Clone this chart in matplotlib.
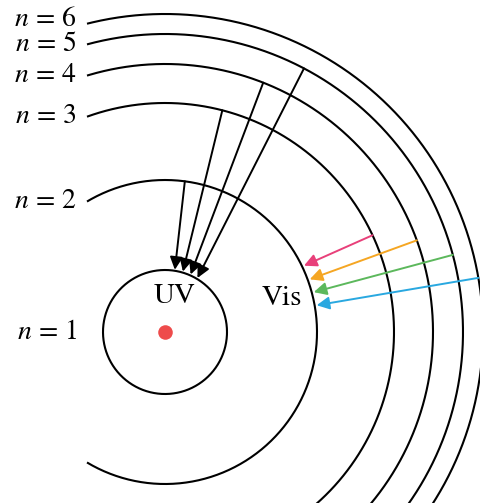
import numpy as np
import matplotlib.pyplot as plt

# Bohr model of hydrogen, drawn in pixel units (y grows downward)
levels = [1, 2, 3, 4, 5, 6]
radii = [62, 152, 229, 268, 298, 318]

# Lyman series (UV): n=2..5 -> n=1, angles in degrees
uv_from = [2, 3, 4, 5]
uv_src_angle = [82.5, 75.5, 68.5, 62.2]
uv_dst_angle = [81.0, 73.5, 66.0, 59.0]

# Balmer series (visible): n=3..6 -> n=2
vis_from = [3, 4, 5, 6]
vis_src_angle = [25, 20, 15, 9.8]
vis_dst_angle = [25.5, 20, 15, 10]
vis_colors = ['#E8407A', '#F5A623', '#5CB85C', '#29A8E0']

cx, cy = 165, 332
x_left = 87  # arcs begin at this x on the left side

plt.rcParams['mathtext.fontset'] = 'stix'
plt.rcParams['font.family'] = 'STIXGeneral'

fig = plt.figure(figsize=(4.8, 5.03), dpi=100)
ax = fig.add_axes([0, 0, 1, 1])
ax.set_xlim(0, 480)
ax.set_ylim(503, 0)
ax.axis('off')


def pt(r, deg):
    t = np.radians(deg)
    return cx + r * np.cos(t), cy - r * np.sin(t)


for n, r in zip(levels, radii):
    if n == 1:
        t = np.linspace(0, 360, 400)
        label_y = cy
    else:
        a = np.degrees(np.arccos((x_left - cx) / r))
        t = np.linspace(-a, a, 400)
        label_y = pt(r, a)[1]
        if n == 6:
            label_y -= 4
    xs, ys = pt(r, t)
    ax.plot(xs, ys, color='black', lw=1.5, solid_capstyle='butt')
    ax.text(x_left - 10, label_y, rf'$n\,=\,{n}$', ha='right', va='center',
            fontsize=20)

ax.scatter([cx], [cy], s=110, color='#EE4B4B', zorder=3, linewidths=0)

arrow = dict(arrowstyle='-|>', lw=1.4, mutation_scale=19,
             shrinkA=0, shrinkB=0)
for n, a0, a1 in zip(uv_from, uv_src_angle, uv_dst_angle):
    ax.annotate('', xy=pt(radii[0] + 1, a1), xytext=pt(radii[n - 1], a0),
                arrowprops=dict(arrow, color='black'))

for n, a0, a1, c in zip(vis_from, vis_src_angle, vis_dst_angle, vis_colors):
    ax.annotate('', xy=pt(radii[1] + 2, a1), xytext=pt(radii[n - 1], a0),
                arrowprops=dict(arrow, color=c))

ax.text(175, 296, 'UV', ha='center', va='center', fontsize=21)
ax.text(282, 298, 'Vis', ha='center', va='center', fontsize=21)

fig.savefig('out.png', dpi=100)
